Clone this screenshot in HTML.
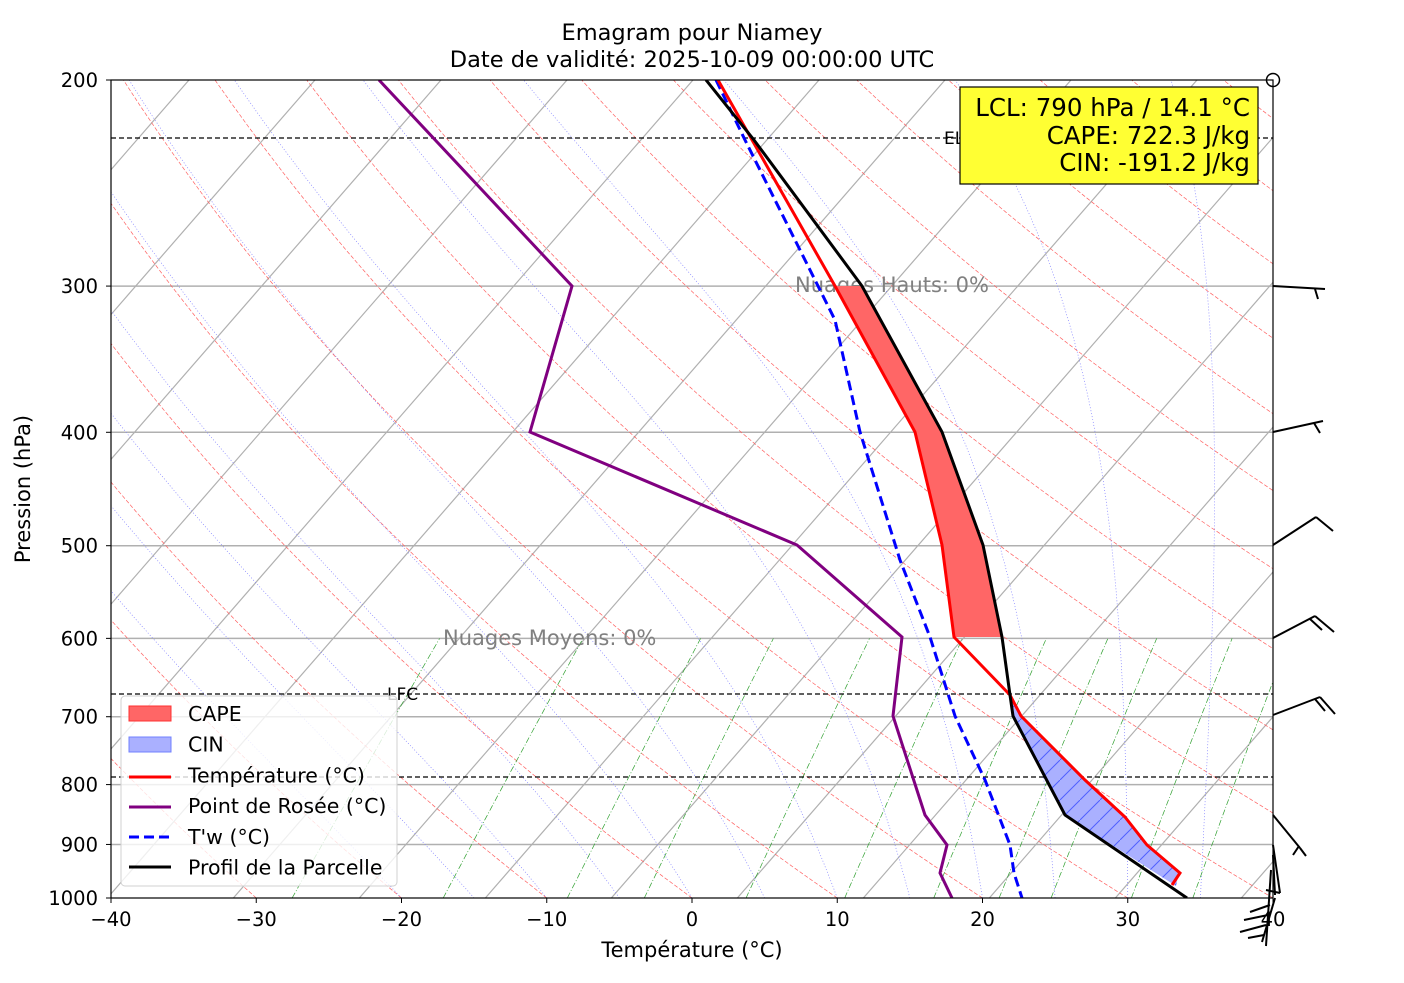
<!DOCTYPE html>
<html><head><meta charset="utf-8"><style>
body{margin:0;background:#fff;}
svg text{font-family:"DejaVu Sans","Liberation Sans",sans-serif;}
</style></head><body>
<svg id="s" width="1404" height="978" xmlns="http://www.w3.org/2000/svg">
<defs><clipPath id="c"><rect x="111" y="80" width="1162" height="818"/></clipPath>
<pattern id="h" width="20" height="20" patternUnits="userSpaceOnUse"><line x1="0" y1="20" x2="20" y2="0" stroke="#5060ff" stroke-width="1"/></pattern></defs>
<g id="bg" clip-path="url(#c)"></g>
<g id="fg" clip-path="url(#c)"></g>
<g id="ov"></g>
</svg>
<script>
const NS="http://www.w3.org/2000/svg";
function el(p,t,a,txt){const e=document.createElementNS(NS,t);for(const k in a)e.setAttribute(k,a[k]);if(txt!==undefined)e.textContent=txt;document.getElementById(p).appendChild(e);return e;}
const X=T=>111+(T+40)*14.525, Y=p=>80+Math.log(p/200)/Math.log(5)*818, SK=0.87;
const XS=(T,p)=>X(T)+SK*(898-Y(p));
function pl(pts){return pts.map(q=>q[0].toFixed(1)+","+q[1].toFixed(1)).join(" ");}
for(let k=-2;k<20;k++){const x0=189+k*126;el("bg","line",{x1:x0,y1:80,x2:x0-0.87*818,y2:898,stroke:"#b0b0b0","stroke-width":1.2});}
[300,400,500,600,700,800,900].forEach(p=>el("bg","line",{x1:111,x2:1273,y1:Y(p),y2:Y(p),stroke:"#b0b0b0","stroke-width":1.5}));
for(let th=-30;th<=200;th+=10){const pts=[];for(let p=1000;p>=200;p-=10){const T=(th+273.15)*Math.pow(p/1000,0.286)-273.15;pts.push([XS(T,p),Y(p)]);}
el("bg","polyline",{points:pl(pts),fill:"none",stroke:"#ff6060","stroke-width":0.7,"stroke-dasharray":"4,2"});}
function es(T){return 6.112*Math.exp(17.67*T/(T+243.5));}
for(let T0=-20;T0<=45;T0+=5){let T=T0;const pts=[];for(let p=1000;p>=200;p-=5){pts.push([XS(T,p),Y(p)]);const Tk=T+273.15,rs=0.622*es(T)/(p-es(T));const L=2.5e6,R=287,cp=1005;const dTdp=(1/p)*(R*Tk+L*rs)/(cp+L*L*rs*0.622/(R*Tk*Tk));T-=dTdp*5;}
el("bg","polyline",{points:pl(pts),fill:"none",stroke:"#8080ff","stroke-width":0.7,"stroke-dasharray":"1,2"});}
[0.4,1,2,3,5,8,12,16,20,28,36].forEach(w=>{const pts=[];for(let p=1000;p>=600;p-=10){const e=w/1000*p/(0.622+w/1000);const l=Math.log(e/6.112);const Td=243.5*l/(17.67-l);pts.push([XS(Td,p),Y(p)]);}
el("bg","polyline",{points:pl(pts),fill:"none",stroke:"#30a030","stroke-width":0.7,"stroke-dasharray":"6,2,1,2"});});
[138,694,777].forEach(y=>el("bg","line",{x1:111,x2:1273,y1:y,y2:y,stroke:"#000","stroke-width":1.3,"stroke-dasharray":"5,3"}));
el("bg","text",{x:944,y:144,"font-size":17},"EL");
el("bg","text",{x:387,y:700,"font-size":17},"LFC");
el("bg","text",{x:795,y:292,"font-size":21,fill:"#808080"},"Nuages Hauts: 0%");
el("bg","text",{x:443,y:645,"font-size":21,fill:"#808080"},"Nuages Moyens: 0%");
el("fg","polygon",{points:"835,286 862,286 942,432 983,545 1002,637 954,637 942,545 915,432",fill:"#ff6666"});
const cin="1010,695 1013,716 1065,815 1176,886 1179,872 1147,845 1125,817 1085,780 1021,716";
el("fg","polygon",{points:cin,fill:"#aab0ff"});
el("fg","polygon",{points:cin,fill:"url(#h)"});
el("fg","polyline",{points:"716,80 745,140 800,250 835,320 860,432 900,560 930,637 955,716 985,780 1010,845 1014,873 1022,898",fill:"none",stroke:"#0000ff","stroke-width":3,"stroke-dasharray":"10,5"});
el("fg","polyline",{points:"379,80 572,286 530,432 797,545 902,637 893,716 925,815 947,845 940,873 952,898",fill:"none",stroke:"#800080","stroke-width":3});
el("fg","polyline",{points:"718,80 835,286 915,432 942,545 954,637 1010,695 1021,716 1085,780 1125,817 1147,845 1180,873 1172,885",fill:"none",stroke:"#ff0000","stroke-width":3});
el("fg","polyline",{points:"706,80 754,140 862,286 942,432 983,545 1002,637 1010,695 1013,716 1065,815 1187,898",fill:"none",stroke:"#000","stroke-width":3});
el("ov","rect",{x:111,y:80,width:1162,height:818,fill:"none",stroke:"#000","stroke-width":1.2});
el("ov","circle",{cx:1273,cy:80,r:6.5,fill:"none",stroke:"#000","stroke-width":1.5});
[200,300,400,500,600,700,800,900,1000].forEach(p=>{el("ov","line",{x1:106,x2:111,y1:Y(p),y2:Y(p),stroke:"#000"});el("ov","text",{x:98,y:Y(p)+7,"font-size":19.5,"text-anchor":"end"},p);});
[-40,-30,-20,-10,0,10,20,30,40].forEach(t=>{el("ov","line",{x1:X(t),x2:X(t),y1:898,y2:903,stroke:"#000"});el("ov","text",{x:X(t),y:926,"font-size":19.5,"text-anchor":"middle"},t<0?"\u2212"+(-t):t);});
el("ov","text",{x:692,y:957,"font-size":21,"text-anchor":"middle"},"Température (°C)");
el("ov","text",{x:30,y:489,"font-size":21,"text-anchor":"middle",transform:"rotate(-90 30 489)"},"Pression (hPa)");
el("ov","text",{x:692,y:40,"font-size":22.5,"text-anchor":"middle"},"Emagram pour Niamey");
el("ov","text",{x:692,y:67,"font-size":22.5,"text-anchor":"middle"},"Date de validité: 2025-10-09 00:00:00 UTC");
el("ov","rect",{x:960,y:87,width:298,height:97,fill:"#ffff33",stroke:"#000","stroke-width":1.2});
el("ov","text",{x:1250,y:116,"font-size":24.5,"text-anchor":"end"},"LCL: 790 hPa / 14.1 °C");
el("ov","text",{x:1250,y:144,"font-size":24.5,"text-anchor":"end"},"CAPE: 722.3 J/kg");
el("ov","text",{x:1250,y:171,"font-size":24.5,"text-anchor":"end"},"CIN: -191.2 J/kg");
const B=[[1273,286,1325,289],[1315,289,1318,299],[1273,432,1323,421],[1314,423,1320,433],[1273,545,1316,517],[1316,517,1333,531],
[1273,638,1315,616],[1315,616,1334,632],[1310,619,1322,630],[1273,715,1320,697],[1320,697,1335,714],[1315,699,1325,711],
[1273,815,1300,848],[1300,848,1306,856],[1293,855,1299,846],[1273,845,1280,893],[1280,893,1266,890],[1273,855,1275,895],
[1275,898,1262,942],[1270,905,1250,912],[1268,915,1244,920],[1266,925,1240,932],[1264,935,1248,938],[1271,870,1266,946]];
B.forEach(b=>el("ov","line",{x1:b[0],y1:b[1],x2:b[2],y2:b[3],stroke:"#000","stroke-width":2}));
el("ov","rect",{x:121,y:696,width:276,height:190,rx:4,fill:"#fff","fill-opacity":0.8,stroke:"#d0d0d0"});
el("ov","rect",{x:129,y:706,width:42,height:15,fill:"#ff6666",stroke:"#ff3030"});
el("ov","rect",{x:129,y:737,width:42,height:15,fill:"#aab0ff",stroke:"#7080ff"});
el("ov","line",{x1:129,x2:171,y1:777,y2:777,stroke:"#f00","stroke-width":3});
el("ov","line",{x1:129,x2:171,y1:807,y2:807,stroke:"#800080","stroke-width":3});
el("ov","line",{x1:129,x2:171,y1:837,y2:837,stroke:"#00f","stroke-width":3,"stroke-dasharray":"10,5"});
el("ov","line",{x1:129,x2:171,y1:867,y2:867,stroke:"#000","stroke-width":3});
["CAPE","CIN","Température (°C)","Point de Rosée (°C)","T'w (°C)","Profil de la Parcelle"].forEach((t,i)=>el("ov","text",{x:188,y:721+i*30.7,"font-size":20.5},t));
</script>
</body></html>
